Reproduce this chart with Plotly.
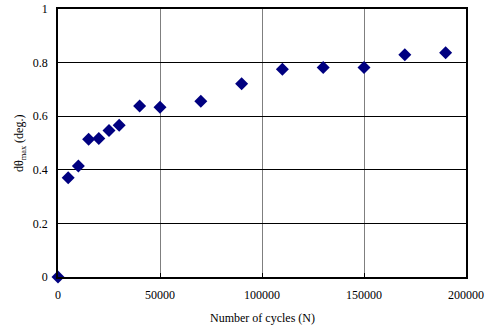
import plotly.graph_objects as go

cycles = [0, 5000, 10000, 15000, 20000, 25000, 30000, 40000, 50000,
          70000, 90000, 110000, 130000, 150000, 170000, 190000]
dtheta = [0.0, 0.370, 0.414, 0.514, 0.517, 0.547, 0.566, 0.638, 0.633,
          0.656, 0.721, 0.775, 0.782, 0.782, 0.829, 0.837]

x_ticks = [0, 50000, 100000, 150000, 200000]
x_labels = ["0", "50000", "100000", "150000", "200000"]
y_ticks = [0, 0.2, 0.4, 0.6, 0.8, 1]
y_labels = ["0", "0.2", "0.4", "0.6", "0.8", "1"]
x_title = "Number of cycles (N)"
y_title = "dθ<sub>max</sub> (deg.)"

fig = go.Figure()
fig.add_trace(go.Scatter(
    x=cycles, y=dtheta, mode="markers",
    marker=dict(symbol="diamond", size=10, color="#000080",
                line=dict(width=0)),
    cliponaxis=False, showlegend=False,
))

font = dict(family="Liberation Serif, Times New Roman, serif", size=12, color="#000")

fig.update_layout(
    width=486, height=331,
    margin=dict(l=58, r=20, t=9, b=54),
    paper_bgcolor="white", plot_bgcolor="white",
    font=font,
    xaxis=dict(
        range=[0, 200000], tickmode="array", tickvals=x_ticks, ticktext=x_labels,
        showgrid=True, gridcolor="#7f7f7f", gridwidth=1,
        showline=True, linecolor="#000", linewidth=1.5, mirror=True,
        ticks="inside", ticklen=4, tickcolor="#000",
        zeroline=False, automargin=False, ticklabelstandoff=6,
    ),
    yaxis=dict(
        range=[0, 1], tickmode="array", tickvals=y_ticks, ticktext=y_labels,
        showgrid=True, gridcolor="#000", gridwidth=1,
        showline=True, linecolor="#000", linewidth=1.5, mirror=True,
        ticks="", zeroline=False, automargin=False, ticklabelstandoff=6,
    ),
    annotations=[
        dict(text=x_title, xref="x domain", yref="paper", x=0.5, y=-0.153,
             xanchor="center", yanchor="middle", showarrow=False, font=font),
        dict(text=y_title, xref="paper", yref="y domain", x=-0.093, y=0.5,
             xanchor="center", yanchor="middle", textangle=-90,
             showarrow=False, font=font),
    ],
)

fig.write_html("out.html", config={"displayModeBar": False},
               post_script="document.body.style.margin='0';")
